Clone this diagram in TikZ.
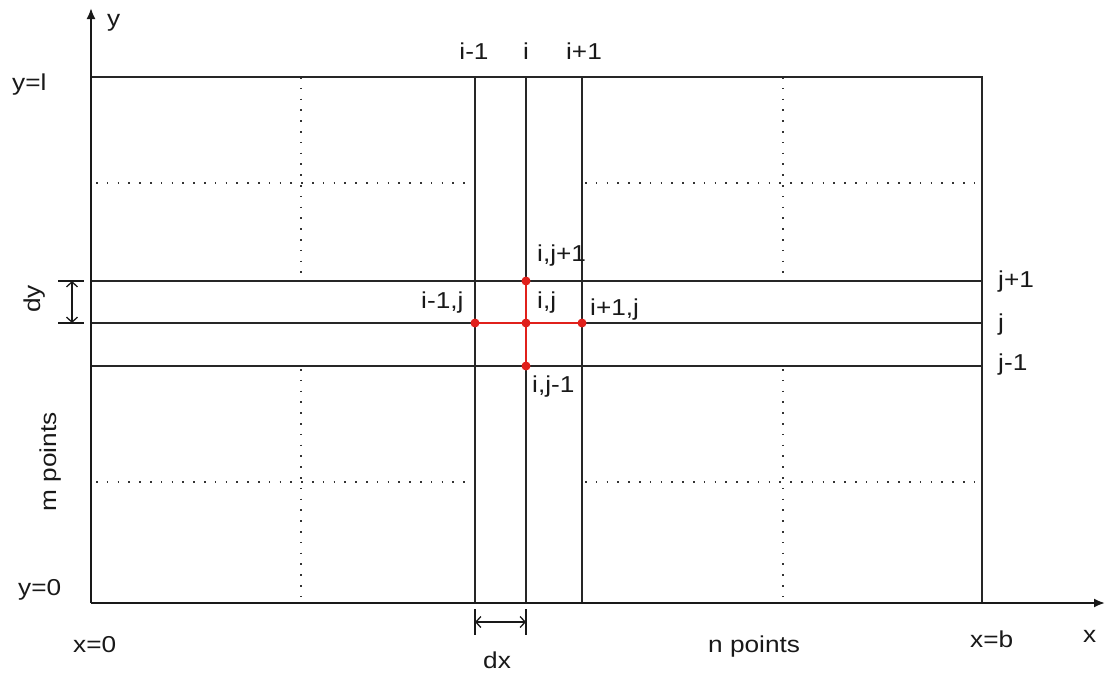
\documentclass[tikz,border=0pt]{standalone}
\usepackage{fontspec}
\setmainfont[FakeStretch=1.14]{Liberation Sans}
\usetikzlibrary{arrows.meta}
\begin{document}
\begin{tikzpicture}[x=1pt,y=-1pt,
  gridline/.style={line width=1.5pt, black!85},
  dotline/.style={line width=1.6pt, dash pattern=on 1.6pt off 9.2pt, black!80},
  axis/.style={line width=2pt, black!90, -{Latex[length=11pt,width=9pt]}},
  lbl/.style={font=\fontsize{23}{27}\selectfont, inner sep=0pt, text=black!90},
  redline/.style={color={rgb,255:red,224;green,32;blue,27}, line width=1.5pt},
  rdot/.style={circle, fill={rgb,255:red,224;green,32;blue,27}, inner sep=0pt, minimum size=9pt},
  dimline/.style={line width=1.3pt, black!90, {Straight Barb[length=5pt,width=11pt]}-{Straight Barb[length=5pt,width=11pt]}},
  tick/.style={line width=1.3pt, black!90},
]
\useasboundingbox (0,0) rectangle (1105,675);

% frame coordinates
\coordinate (O) at (91,603);
\coordinate (TL) at (91,77);
\coordinate (TR) at (982,77);
\coordinate (BR) at (982,603);
\coordinate (ytip) at (91,8);
\coordinate (xtip) at (1105,603);

% columns
\coordinate (cm1t) at (475,77);  \coordinate (cm1b) at (475,603);
\coordinate (c0t)  at (526,77);  \coordinate (c0b)  at (526,603);
\coordinate (cp1t) at (582,77);  \coordinate (cp1b) at (582,603);
% rows
\coordinate (rp1l) at (91,281); \coordinate (rp1r) at (982,281);
\coordinate (r0l)  at (91,323); \coordinate (r0r)  at (982,323);
\coordinate (rm1l) at (91,366); \coordinate (rm1r) at (982,366);

% dotted lines
\coordinate (d1a) at (301,77);  \coordinate (d1b) at (301,275);
\coordinate (d1c) at (301,369); \coordinate (d1d) at (301,603);
\coordinate (d2a) at (783,77);  \coordinate (d2b) at (783,275);
\coordinate (d2c) at (783,369); \coordinate (d2d) at (783,603);
\coordinate (h1a) at (96,183);  \coordinate (h1b) at (472,183);
\coordinate (h1c) at (585,183); \coordinate (h1d) at (982,183);
\coordinate (h2a) at (96,482);  \coordinate (h2b) at (472,482);
\coordinate (h2c) at (585,482); \coordinate (h2d) at (982,482);

\draw[dotline] (d1a) -- (d1b) (d1c) -- (d1d);
\draw[dotline] (d2a) -- (d2b) (d2c) -- (d2d);
\draw[dotline] (h1a) -- (h1b) (h1c) -- (h1d);
\draw[dotline] (h2a) -- (h2b) (h2c) -- (h2d);

% grid lines
\draw[gridline] (TL) -- (TR) -- (BR);
\draw[gridline] (cm1t) -- (cm1b);
\draw[gridline] (c0t) -- (c0b);
\draw[gridline] (cp1t) -- (cp1b);
\draw[gridline] (rp1l) -- (rp1r);
\draw[gridline] (r0l) -- (r0r);
\draw[gridline] (rm1l) -- (rm1r);

% axes
\draw[axis] (O) -- (ytip);
\draw[axis] (O) -- (xtip);

% stencil
\node[rdot] (pN) at (526,281) {};
\node[rdot] (pW) at (475,323) {};
\node[rdot] (pC) at (526,323) {};
\node[rdot] (pE) at (582,323) {};
\node[rdot] (pS) at (526,366) {};
\draw[redline] (pW.center) -- (pE.center);
\draw[redline] (pN.center) -- (pS.center);

% dy dimension
\coordinate (dyt1) at (58,281); \coordinate (dyt2) at (84,281);
\coordinate (dyb1) at (58,323); \coordinate (dyb2) at (84,323);
\coordinate (dya) at (72,281);  \coordinate (dyb) at (72,323);
\draw[tick] (dyt1) -- (dyt2);
\draw[tick] (dyb1) -- (dyb2);
\draw[dimline] (dya) -- (dyb);

% dx dimension
\coordinate (dxl1) at (475,609); \coordinate (dxl2) at (475,635);
\coordinate (dxr1) at (526,609); \coordinate (dxr2) at (526,635);
\coordinate (dxa) at (475,622);  \coordinate (dxb) at (526,622);
\draw[tick] (dxl1) -- (dxl2);
\draw[tick] (dxr1) -- (dxr2);
\draw[dimline] (dxa) -- (dxb);

% labels
\node[lbl, anchor=base west] (ly) at (107,26) {y};
\node[lbl, anchor=base west] (lyl) at (12,90) {y=l};
\node[lbl, anchor=base] (lim1) at (474,59) {i-1};
\node[lbl, anchor=base] (li) at (526,59) {i};
\node[lbl, anchor=base] (lip1) at (584,59) {i+1};
\node[lbl, anchor=base west] (lN) at (537,261) {i,j+1};
\node[lbl, anchor=base west] (lW) at (421,308) {i-1,j};
\node[lbl, anchor=base west] (lC) at (537,308) {i,j};
\node[lbl, anchor=base west] (lE) at (590,315) {i+1,j};
\node[lbl, anchor=base west] (lS) at (532,392) {i,j-1};
\node[lbl, anchor=base west] (ljp1) at (998,287) {j+1};
\node[lbl, anchor=base west] (lj) at (998,330) {j};
\node[lbl, anchor=base west] (ljm1) at (998,370) {j-1};
\node[lbl, anchor=base, rotate=90] (ldy) at (40,299) {dy};
\node[lbl, anchor=base, rotate=90] (lm) at (56,462) {m points};
\node[lbl, anchor=base west] (ly0) at (18,595) {y=0};
\node[lbl, anchor=base west] (lx0) at (73,652) {x=0};
\node[lbl, anchor=base west] (ldx) at (483,668) {dx};
\node[lbl, anchor=base west] (ln) at (708,652) {n points};
\node[lbl, anchor=base west] (lxb) at (970,647) {x=b};
\node[lbl, anchor=base west] (lx) at (1083,642) {x};
\end{tikzpicture}
\end{document}
